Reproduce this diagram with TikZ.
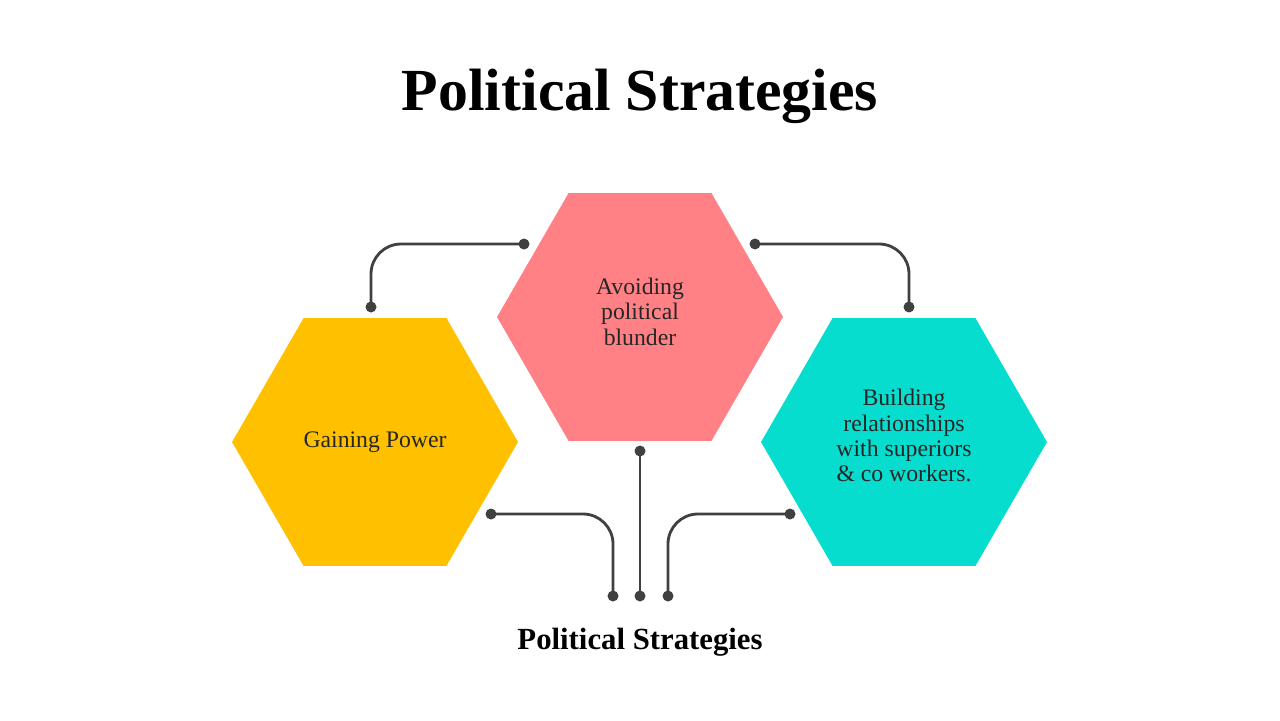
\documentclass[tikz,border=0pt]{standalone}
\usepackage{fontspec}
\setmainfont{Liberation Serif}
\usepackage{xcolor}
\usetikzlibrary{shapes.geometric, positioning}

\definecolor{hexyellow}{HTML}{FFC000}
\definecolor{hexpink}{HTML}{FF8085}
\definecolor{hexcyan}{HTML}{07DDCF}
\definecolor{wiregray}{HTML}{404040}

\tikzset{
  hexbox/.style={regular polygon, regular polygon sides=6, minimum size=5.72cm,
    inner sep=0pt, outer sep=0pt, align=center, text=black!85,
    font=\fontsize{13.5}{14.5}\selectfont},
  wire/.style={wiregray, line width=1.6pt, rounded corners=0.6cm},
  dot/.style={circle, fill=wiregray, inner sep=0pt, minimum size=0.22cm},
}

\begin{document}
\begin{tikzpicture}[x=0.02cm, y=-0.02cm]
			\useasboundingbox (0,0) rectangle (1280,720);
			\node[font=\bfseries\fontsize{34}{36}\selectfont] (title) at (640,96) {Political Strategies};
			% hexagons
			\node[hexbox, fill=hexyellow] (gain) at (375,442) {Gaining Power};
			\node[hexbox, fill=hexpink] (avoid) at (640,317) {Avoiding\\political\\blunder\\[-0.3cm]};
			\node[hexbox, fill=hexcyan] (build) at (904,442) {Building\\relationships\\with superiors\\\& co workers.\\[-0.25cm]};
			\node[font=\bfseries\fontsize{17.5}{19}\selectfont] (caption) at (640,642) {Political Strategies};
			% connector ends
			\node[dot] (d1) at (524,244) {};
			\node[dot] (d2) at (371,307) {};
			\node[dot] (d3) at (755,244) {};
			\node[dot] (d4) at (909,307) {};
			\node[dot] (d5) at (640,451) {};
			\node[dot] (d6) at (640,596) {};
			\node[dot] (d7) at (491,514) {};
			\node[dot] (d8) at (613,596) {};
			\node[dot] (d9) at (790,514) {};
			\node[dot] (d10) at (668,596) {};
			% connectors
			\draw[wire] (d1.center) -| (d2.center);
			\draw[wire] (d3.center) -| (d4.center);
			\draw[wire] (d5.center) -- (d6.center);
			\draw[wire] (d7.center) -| (d8.center);
			\draw[wire] (d9.center) -| (d10.center);
		\end{tikzpicture}
\end{document}
